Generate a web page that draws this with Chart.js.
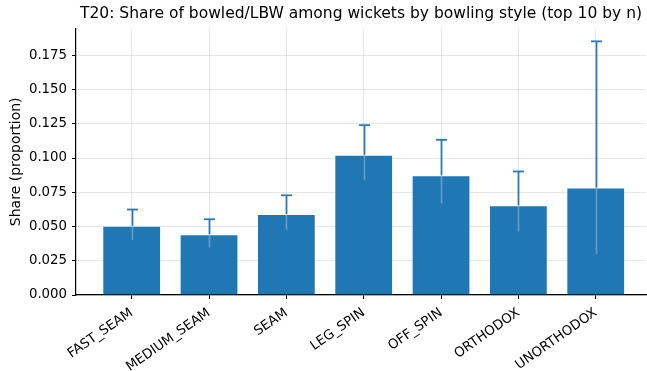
<!DOCTYPE html>
<html>
<head>
<meta charset="utf-8">
<script src="https://cdn.jsdelivr.net/npm/chart.js@4/dist/chart.umd.min.js"></script>
<style>
  html, body { margin: 0; padding: 0; background: #fff; }
  #wrap { width: 647px; height: 371px; }
</style>
</head>
<body>
<div id="wrap"><canvas id="myChart" width="647" height="371"></canvas></div>
<script>
// values
var categories = ["FAST_SEAM", "MEDIUM_SEAM", "SEAM", "LEG_SPIN", "OFF_SPIN", "ORTHODOX", "UNORTHODOX"];
var shareValues = [0.0505, 0.0443, 0.0592, 0.1024, 0.0875, 0.0655, 0.0785];
var lowerValues = [0.0400, 0.0348, 0.0477, 0.0841, 0.0670, 0.0465, 0.0300];
var upperValues = [0.0624, 0.0553, 0.0728, 0.1240, 0.1133, 0.0902, 0.1852];
var yTicks = [0, 0.025, 0.05, 0.075, 0.1, 0.125, 0.15, 0.175];

Chart.defaults.font.family = "'DejaVu Sans', sans-serif";
Chart.defaults.color = "#000";

// error bars, drawn through the chart's own scales
const errorBars = {
  id: "errorBars",
  afterDatasetsDraw(chart) {
    const ctx = chart.ctx;
    const xs = chart.scales.x, ys = chart.scales.y;
    ctx.save();
    ctx.lineWidth = 1.8;
    for (var i = 0; i < categories.length; i++) {
      var px = Math.round(xs.getPixelForValue(i)) + 0.5;
      var pTop = ys.getPixelForValue(upperValues[i]);
      var pBar = ys.getPixelForValue(shareValues[i]);
      var pLow = ys.getPixelForValue(lowerValues[i]);
      // part inside the bar shows up lighter
      ctx.strokeStyle = "rgba(150,185,215,0.55)";
      ctx.beginPath(); ctx.moveTo(px, pBar); ctx.lineTo(px, pLow); ctx.stroke();
      ctx.strokeStyle = "#2a7ab8";
      ctx.beginPath(); ctx.moveTo(px, pBar); ctx.lineTo(px, pTop); ctx.stroke();
      ctx.beginPath(); ctx.moveTo(px - 5.5, pTop); ctx.lineTo(px + 5.5, pTop); ctx.stroke();
    }
    ctx.restore();
  }
};

const myChart = new Chart("myChart", {
  type: "bar",
  data: {
    datasets: [{
      label: "Share",
      data: shareValues.map((v, i) => ({x: i, y: v})),
      backgroundColor: "#1f77b4",
      borderColor: "rgba(255,255,255,0.3)",
      borderWidth: 1,
      borderSkipped: "bottom",
      barPercentage: 0.76,
      categoryPercentage: 1.0
    }]
  },
  options: {
    animation: false,
    responsive: false,
    layout: {padding: {right: 1}},
    plugins: {
      legend: {display: false},
      tooltip: {enabled: false},
      title: {
        display: true,
        fullSize: false,
        text: "T20: Share of bowled/LBW among wickets by bowling style (top 10 by n)",
        font: {size: 15.5, weight: "normal"},
        color: "#000",
        padding: {top: 5, bottom: 5}
      }
    },
    scales: {
      x: {
        type: "linear",
        offset: false,
        min: -0.72,
        max: 6.65,
        z: 1,
        afterBuildTicks: function(scale) {
          scale.ticks = categories.map((c, i) => ({value: i}));
        },
        afterFit: function(scale) { scale.height = 76; },
        ticks: {
          autoSkip: false,
          minRotation: 35,
          maxRotation: 35,
          padding: 6,
          font: {size: 13.3},
          callback: function(v) { return categories[v]; }
        },
        grid: {
          offset: false,
          color: "rgba(176,176,176,0.3)",
          tickColor: "#000",
          tickLength: 4,
          lineWidth: 1
        },
        border: {display: true, color: "#000", width: 1.2}
      },
      y: {
        min: 0,
        max: 0.1945,
        z: 1,
        afterBuildTicks: function(scale) {
          scale.ticks = yTicks.map(v => ({value: v}));
        },
        afterFit: function(scale) { scale.width = 76; },
        ticks: {
          padding: 5,
          font: {size: 13.3},
          callback: function(v) { return v.toFixed(3); }
        },
        grid: {
          color: "rgba(176,176,176,0.3)",
          tickColor: "#000",
          tickLength: 4,
          lineWidth: 1
        },
        border: {display: true, color: "#000", width: 1.2},
        title: {
          display: true,
          text: "Share (proportion)",
          font: {size: 14},
          color: "#000",
          padding: {top: 8, bottom: 0}
        }
      }
    }
  },
  plugins: [errorBars]
});
</script>
</body>
</html>
